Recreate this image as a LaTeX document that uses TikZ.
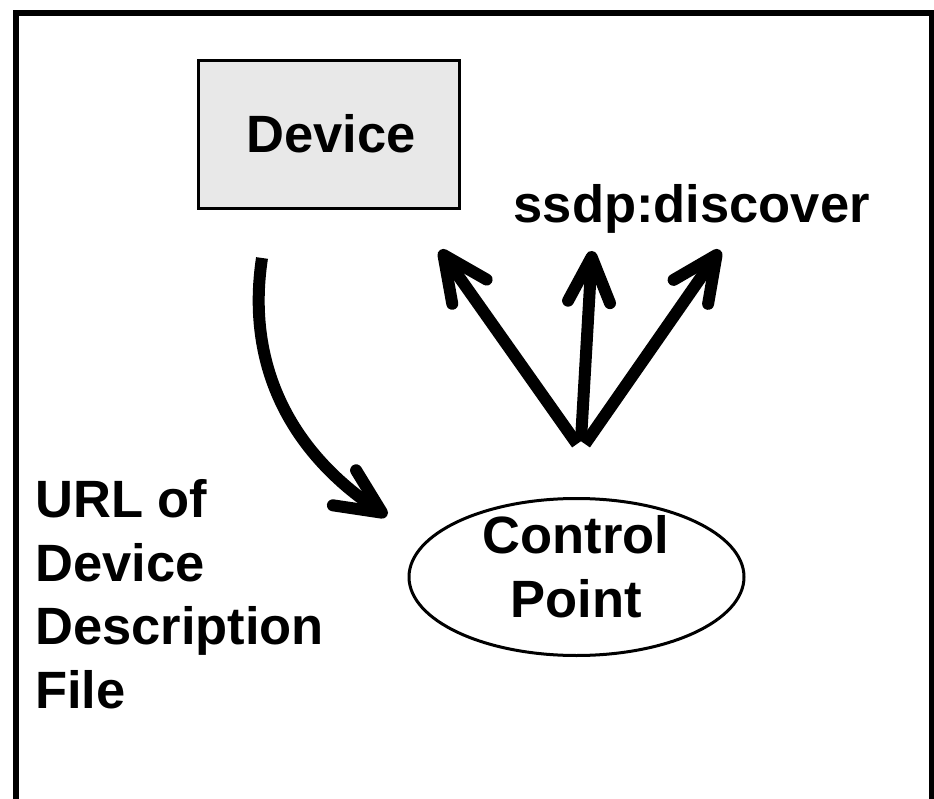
\documentclass[tikz,border=0pt]{standalone}
\usepackage{fontspec}
\setmainfont{Liberation Sans}
\usetikzlibrary{arrows.meta,shapes.geometric}
\definecolor{boxgray}{RGB}{232,232,232}
\begin{document}
\begin{tikzpicture}[x=1pt,y=-1pt,
  lbl/.style={font=\bfseries\fontsize{52.5}{63.5}\selectfont, inner sep=0pt},
  fat/.style={line width=12pt, -{Straight Barb[length=45pt,width=42pt,round]}},
  thinline/.style={draw, line width=3pt, inner sep=0pt}]
\useasboundingbox (0,0) rectangle (934,799);
\clip (0,0) rectangle (934,799);
% outer frame
\draw[line width=6pt] (16,13) rectangle (932,840);
% device box
\node[thinline, fill=boxgray, minimum width=261pt, minimum height=148pt] (device) at (329,134.5) {};
\node[lbl, anchor=base] (devtext) at (331,153) {Device};
% control point ellipse
\node[thinline, ellipse, minimum width=335pt, minimum height=157pt] (cp) at (576.5,577) {};
\node[lbl, align=center, anchor=base] (cptext) at (576,617) {Control\\Point};
% labels
\node[lbl, anchor=base west] (ssdp) at (513.5,223) {ssdp:discover};
\node[lbl, align=left, anchor=base west] (urltext) at (35,708) {URL of\\Device\\Description\\File};
% discovery fan
\coordinate (fan) at (581,444);
\coordinate (tipL) at (440,250);
\coordinate (tipM) at (592,251);
\coordinate (tipR) at (720,250);
\draw[fat] ([xshift=-4pt]fan) -- (tipL);
\draw[fat] ([yshift=4pt]fan) -- (tipM);
\draw[fat] ([xshift=4pt]fan) -- (tipR);
% description URL returned to the control point
\coordinate (urlfrom) at (262,258);
\coordinate (urlto) at (387,516);
\draw[fat] (urlfrom) .. controls (245,370) and (295,455) .. (urlto);
\end{tikzpicture}
\end{document}
